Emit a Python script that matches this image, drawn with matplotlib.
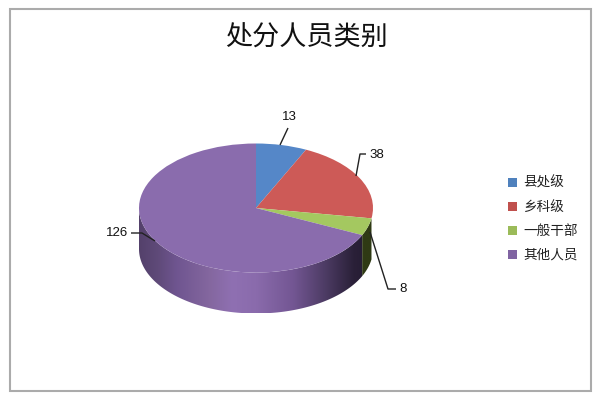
import numpy as np
import matplotlib
matplotlib.use("Agg")
import matplotlib.pyplot as plt
from matplotlib.colors import LinearSegmentedColormap
from matplotlib.patches import Polygon, Rectangle

plt.rcParams['font.family'] = ['Noto Sans CJK SC', 'DejaVu Sans']

title = "处分人员类别"
categories = ["县处级", "乡科级", "一般干部", "其他人员"]
values = [13, 38, 8, 126]
top_colors = ["#5587C8", "#CD5A57", "#A4C860", "#8A6CAD"]
legend_colors = ["#4F81BD", "#C0504D", "#9BBB59", "#8064A2"]

W, H = 600, 400
CX, CY, RX, RY, DEPTH = 256, 208, 117, 64.5, 41

fig = plt.figure(figsize=(6, 4), dpi=100, facecolor="white")

# pixel-coordinate layer for frame, title, legend, labels
bg = fig.add_axes([0, 0, 1, 1])
bg.set_xlim(0, W)
bg.set_ylim(H, 0)
bg.axis("off")
bg.add_patch(Rectangle((10, 8.5), 581, 382.5, fill=False, ec="#ABABAB", lw=1.5))
bg.text(306, 38, title, ha="center", va="center", fontsize=19.5, color="#111111")

for i, (name, col) in enumerate(zip(categories, legend_colors)):
    y = 182 + i * 24
    bg.add_patch(Rectangle((508, y - 4.5), 9, 9, fc=col, ec="none"))
    bg.text(523, y + 0.5, name, ha="left", va="center", fontsize=9.8, color="#222222")

# pie layer: unit circle squashed into an ellipse
ax = fig.add_axes([0, 0, 1, 1], facecolor="none")
xlim = ((0 - CX) / RX, (W - CX) / RX)
ylim = ((CY - H) / RY, CY / RY)
d = DEPTH / RY

side_purple = LinearSegmentedColormap.from_list("p", [
    (0.00, "#54416B"), (0.08, "#5F4A79"), (0.16, "#6F5590"), (0.30, "#84679F"),
    (0.40, "#8F70B2"), (0.50, "#8A6BAC"), (0.66, "#735693"), (0.80, "#4C3B63"),
    (0.92, "#2A2038"), (1.00, "#231A30")])
side_green = LinearSegmentedColormap.from_list("g", [
    (0.0, "#2F3A14"), (1.0, "#2F3A14")])

fractions = np.cumsum([0] + values) / sum(values) * 360


def band(a, b):
    t = np.radians(np.linspace(a, b, 200))
    x, y = np.sin(t), np.cos(t)
    return np.r_[np.c_[x, y], np.c_[x[::-1], y[::-1] - d]]


grad = np.linspace(0, 1, 512)[None, :]
ext = (-1, 1, -1 - d, 1)
for a, b, cmap in [(fractions[3], 270, side_purple), (fractions[2], fractions[3], side_green)]:
    im = ax.imshow(grad, cmap=cmap, extent=ext, aspect="auto", zorder=1, interpolation="bilinear")
    im.set_clip_path(Polygon(band(a, b), closed=True, transform=ax.transData))

wedges, _ = ax.pie(values, colors=top_colors, startangle=90, counterclock=False,
                   radius=1, wedgeprops=dict(linewidth=0))
for w in wedges:
    w.set_zorder(3)
ax.set_aspect("auto")
ax.set_xlim(*xlim)
ax.set_ylim(*ylim)
ax.axis("off")

# leader lines and value labels on top
top = fig.add_axes([0, 0, 1, 1], facecolor="none")
top.set_xlim(0, W)
top.set_ylim(H, 0)
top.axis("off")
leaders = [([280, 288], [145, 128]),
           ([356, 360, 366], [176, 154, 154]),
           ([370, 388, 396], [232, 289, 289]),
           ([155, 142, 131], [241, 233, 233])]
label_pos = [(289, 117), (377, 155), (403, 289), (117, 233)]
for (lx, ly), (tx, ty), v in zip(leaders, label_pos, values):
    top.plot(lx, ly, color="#222222", lw=1.0, solid_capstyle="butt")
    top.text(tx, ty, str(v), ha="center", va="center", fontsize=9.5,
             family="Liberation Sans", color="#111111")

fig.savefig("out.png", dpi=100)
